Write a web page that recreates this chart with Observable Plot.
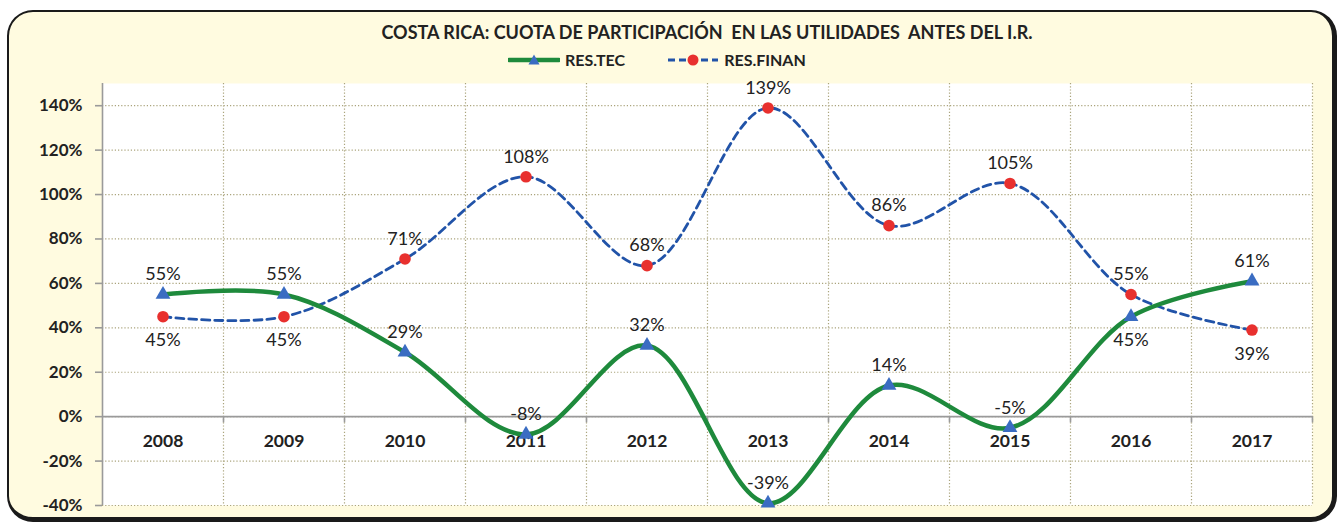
<!DOCTYPE html>
<html>
<head>
<meta charset="utf-8">
<script src="https://cdn.jsdelivr.net/npm/d3@7"></script>
<script src="https://cdn.jsdelivr.net/npm/@observablehq/plot@0.6"></script>
<style>
  html, body { margin: 0; padding: 0; background: #fff; }
  body { width: 1340px; height: 525px; position: relative; overflow: hidden; font-family: Lato, "Open Sans", sans-serif; }
  #frame { position: absolute; left: 7px; top: 10px; width: 1330px; height: 512px; box-sizing: border-box;
           border: 2px solid #1a1a1a; border-right-width: 5px; border-bottom-width: 5px; border-radius: 26px;
           background: #fffbe0; }
  #head { position: relative; height: 78px; }
  #title { position: absolute; top: 21px; left: 102px; width: 1210px; text-align: center; font-weight: bold;
           font-size: 18px; color: #222; line-height: 22px; white-space: pre; }
  #legend { position: absolute; top: 51px; left: 508px; display: flex; align-items: center; font-weight: bold;
            font-size: 16px; color: #222; line-height: 18px; }
  #legend .item { display: flex; align-items: center; margin-right: 42px; }
  #legend svg { margin-right: 5px; }
  #chart { position: relative; }
</style>
</head>
<body>
<div id="frame"></div>
<div id="head">
  <div id="title"></div>
  <div id="legend"></div>
</div>
<div id="chart"></div>
<script>
const titleText = "COSTA RICA: CUOTA DE PARTICIPACIÓN  EN LAS UTILIDADES  ANTES DEL I.R.";
const years = ["2008", "2009", "2010", "2011", "2012", "2013", "2014", "2015", "2016", "2017"];
const resTec = [55, 55, 29, -8, 32, -39, 14, -5, 45, 61];
const resFinan = [45, 45, 71, 108, 68, 139, 86, 105, 55, 39];
const yTicks = [-40, -20, 0, 20, 40, 60, 80, 100, 120, 140];
const seriesNames = ["RES.TEC", "RES.FINAN"];
const tecBelow = ["2016"];
const finBelow = ["2008", "2009", "2017"];

const green = "#1e8a3c", blue = "#2153a8", tri = "#3a6cc2", red = "#e8302e";
const gridColor = "#aaa47c";

document.getElementById("title").textContent = titleText;

// legend
const legend = document.getElementById("legend");
legend.innerHTML = `
  <div class="item"><svg width="52" height="14">
     <line x1="1" y1="7" x2="51" y2="7" stroke="${green}" stroke-width="4.5" stroke-linecap="round"/>
     <path d="M26,1.5 L31.5,11.5 L20.5,11.5 Z" fill="${tri}"/></svg><span>${seriesNames[0]}</span></div>
  <div class="item"><svg width="52" height="14">
     <line x1="1" y1="7" x2="51" y2="7" stroke="${blue}" stroke-width="2.8" stroke-dasharray="7,4"/>
     <circle cx="26" cy="7" r="5.5" fill="${red}"/></svg><span>${seriesNames[1]}</span></div>`;

const data = years.map((year, i) => ({ x: i + 0.5, year, tec: resTec[i], fin: resFinan[i] }));
const bounds = d3.range(1, years.length + 1);
const fmt = d => d + "%";

const chart = Plot.plot({
  width: 1340,
  height: 447,
  marginLeft: 102,
  marginRight: 28,
  marginTop: 5,
  marginBottom: 20,
  x: { domain: [0, years.length], axis: null },
  y: { domain: [-40, 150], axis: null },
  style: { fontFamily: "Lato, 'Open Sans', sans-serif", background: "transparent", overflow: "visible" },
  marks: [
    Plot.frame({ fill: "white", stroke: null }),
    Plot.gridY(yTicks, { stroke: gridColor, strokeOpacity: 1, strokeWidth: 1.2, strokeDasharray: "1.2,2" }),
    Plot.ruleX(bounds, { stroke: gridColor, strokeOpacity: 1, strokeWidth: 1.2, strokeDasharray: "1.2,2" }),
    Plot.ruleY([0], { stroke: "#9a9a9a", strokeWidth: 1.6 }),
    Plot.ruleX([0], { stroke: "#9a9a9a", strokeWidth: 1.6 }),
    Plot.ruleX(bounds, { y1: 0, y2: -2.8, stroke: "#9a9a9a", strokeWidth: 1.6 }),
    Plot.axisY(yTicks, { tickFormat: fmt, fontSize: 17, fontWeight: "bold", tickSize: 7, tickPadding: 13,
                         stroke: "#9a9a9a", strokeWidth: 1.6, fill: "#222" }),
    Plot.text(data, { x: "x", y: () => 0, text: "year", dy: 25, fontWeight: "bold", fontSize: 17.5, fill: "#222" }),
    Plot.line(data, { x: "x", y: "fin", curve: "catmull-rom", stroke: blue, strokeWidth: 2.8, strokeDasharray: "8,5" }),
    Plot.line(data, { x: "x", y: "tec", curve: "catmull-rom", stroke: green, strokeWidth: 4.5 }),
    Plot.dot(data, { x: "x", y: "fin", r: 5.8, fill: red }),
    Plot.dot(data, { x: "x", y: "tec", symbol: "triangle", r: 5.5, fill: tri }),
    Plot.text(data.filter(d => !tecBelow.includes(d.year)), { x: "x", y: "tec", text: d => fmt(d.tec), dy: -20, fontSize: 18, fill: "#222" }),
    Plot.text(data.filter(d => tecBelow.includes(d.year)), { x: "x", y: "tec", text: d => fmt(d.tec), dy: 24, fontSize: 18, fill: "#222" }),
    Plot.text(data.filter(d => !finBelow.includes(d.year)), { x: "x", y: "fin", text: d => fmt(d.fin), dy: -20, fontSize: 18, fill: "#222" }),
    Plot.text(data.filter(d => finBelow.includes(d.year)), { x: "x", y: "fin", text: d => fmt(d.fin), dy: 24, fontSize: 18, fill: "#222" })
  ]
});
document.getElementById("chart").appendChild(chart);
</script>
</body>
</html>
